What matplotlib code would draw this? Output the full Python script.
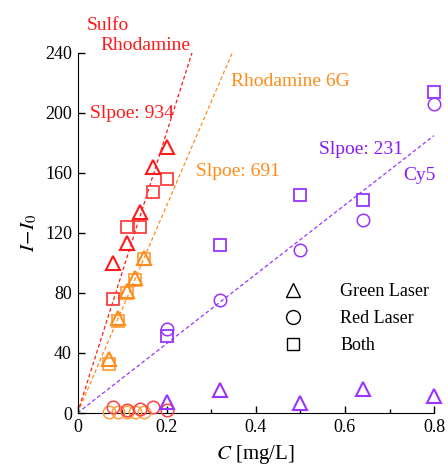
import numpy as np
import matplotlib
matplotlib.use('Agg')
import matplotlib.pyplot as plt
from matplotlib.lines import Line2D

plt.rcParams['font.family'] = ['Liberation Serif', 'DejaVu Serif']
plt.rcParams['mathtext.fontset'] = 'stix'

# Sulforhodamine (red)
sr_x = [0.08, 0.11, 0.14, 0.17, 0.20]
sr_green = [100, 113, 134, 164, 177]
sr_red = [3.8, 2.2, 2.7, 3.8, 2.2]
sr_both = [76, 124, 124, 147, 156]
sr_slope = 934

# Rhodamine 6G (orange)
r6_x = [0.07, 0.09, 0.11, 0.13, 0.15]
r6_green = [36, 63, 81.5, 90, 103]
r6_red = [0.5, 0.5, 0.5, 0.5, 0.5]
r6_both = [32.5, 61.5, 80, 88.5, 102.5]
r6_slope = 691

# Cy5 (purple)
cy_x = [0.20, 0.32, 0.50, 0.64, 0.80]
cy_green = [7, 15, 6.5, 16, 11.5]
cy_red = [56, 75, 108.5, 128.5, 206]
cy_both = [51.5, 112, 145, 142, 214]
cy_slope = 231

c_red = '#ff1a1a'
c_red2 = '#ff4040'
c_org = '#ff8c1a'
c_org2 = '#ffa040'
c_pur = '#9933ff'
c_pur_txt = '#8a1aff'

fig = plt.figure(figsize=(4.48, 4.68), dpi=100)
ax = fig.add_axes([0.173, 0.1175, 0.796, 0.77])

def draw(x, g, r, b, slope, col, col2, xend):
    xx = np.array([0, xend])
    ax.plot(xx, slope * xx, ls=(0, (3, 2)), lw=0.9, color=col, zorder=1)
    ax.plot(x, r, ls='none', marker='o', ms=9, mfc='none', mec=col2, mew=1.1, clip_on=False, zorder=3)
    ax.plot(x, b, ls='none', marker='s', ms=9, mfc='none', mec=col2, mew=1.3, clip_on=False, zorder=3)
    ax.plot(x, g, ls='none', marker='^', ms=10, mfc='none', mec=col, mew=1.5, clip_on=False, zorder=3)

draw(r6_x, r6_green, r6_red, r6_both, r6_slope, c_org, c_org2, 240 / r6_slope)
draw(sr_x, sr_green, sr_red, sr_both, sr_slope, c_red, c_red2, 240 / sr_slope)
draw(cy_x, cy_green, cy_red, cy_both, cy_slope, c_pur, c_pur, 0.8)

ax.set_xlim(0, 0.8)
ax.set_ylim(0, 240)
ax.set_xticks([0, 0.2, 0.4, 0.6, 0.8])
ax.set_xticklabels(['0', '0.2', '0.4', '0.6', '0.8'])
ax.set_xticks([0.1, 0.3, 0.5, 0.7], minor=True)
ax.set_yticks(np.arange(0, 241, 40))
ax.tick_params(direction='in', labelsize=13, length=5, width=1, pad=4)
ax.tick_params(which='minor', direction='in', length=3, width=1)
for s in ['top', 'right']:
    ax.spines[s].set_visible(False)

ax.set_xlabel(r'$C$ [mg/L]', fontsize=15, labelpad=5)
ax.set_ylabel(r'$I\!-\!I_0$', fontsize=15, labelpad=4)

fs = 14
fig.text(87 / 448, 1 - 25 / 468, 'Sulfo', color=c_red, fontsize=fs, va='center', ha='left')
fig.text(100 / 448, 1 - 46 / 468, 'Rhodamine', color=c_red, fontsize=fs, va='center', ha='left')
fig.text(90 / 448, 1 - 113 / 468, 'Slpoe: 934', color=c_red, fontsize=fs, va='center', ha='left')
fig.text(231 / 448, 1 - 82 / 468, 'Rhodamine 6G', color=c_org, fontsize=fs, va='center', ha='left')
fig.text(196 / 448, 1 - 171 / 468, 'Slpoe: 691', color=c_org, fontsize=fs, va='center', ha='left')
fig.text(319 / 448, 1 - 150 / 468, 'Slpoe: 231', color=c_pur_txt, fontsize=fs, va='center', ha='left')
fig.text(403 / 448, 1 - 176 / 468, 'Cy5', color=c_pur_txt, fontsize=fs, va='center', ha='left')

handles = [
    Line2D([], [], ls='none', marker='^', ms=10, mfc='none', mec='black', mew=1.0),
    Line2D([], [], ls='none', marker='o', ms=10, mfc='none', mec='black', mew=1.0),
    Line2D([], [], ls='none', marker='s', ms=9, mfc='none', mec='black', mew=1.0),
]
ax.legend(handles, ['Green Laser', 'Red Laser', 'Both'], loc='center left',
          bbox_to_anchor=(0.521, 0.262), frameon=False, fontsize=13,
          handletextpad=1.85, labelspacing=0.55, handlelength=1.5)

fig.savefig('out.png', dpi=100)
